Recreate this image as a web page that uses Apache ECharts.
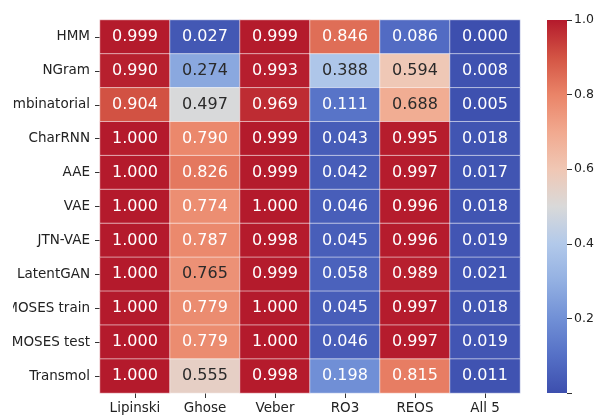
<!DOCTYPE html>
<html>
<head>
<meta charset="utf-8">
<script src="https://cdn.jsdelivr.net/npm/echarts@6/dist/echarts.min.js"></script>
<style>
html,body{margin:0;padding:0;background:#fff;}
#chart{width:597px;height:415px;}
</style>
</head>
<body>
<div id="chart"></div>
<script>
const rows = ['HMM','NGram','Combinatorial','CharRNN','AAE','VAE','JTN-VAE','LatentGAN','MOSES train','MOSES test','Transmol'];
const cols = ['Lipinski','Ghose','Veber','RO3','REOS','All 5'];
const lipinski = [0.999,0.990,0.904,1.000,1.000,1.000,1.000,1.000,1.000,1.000,1.000];
const ghose    = [0.027,0.274,0.497,0.790,0.826,0.774,0.787,0.765,0.779,0.779,0.555];
const veber    = [0.999,0.993,0.969,0.999,0.999,1.000,0.998,0.999,1.000,1.000,0.998];
const ro3      = [0.846,0.388,0.111,0.043,0.042,0.046,0.045,0.058,0.045,0.046,0.198];
const reos     = [0.086,0.594,0.688,0.995,0.997,0.996,0.996,0.989,0.997,0.997,0.815];
const all5     = [0.000,0.008,0.005,0.018,0.017,0.018,0.019,0.021,0.018,0.019,0.011];
const colorbarTicks = [0.2,0.4,0.6,0.8,1.0];

const columns = [lipinski, ghose, veber, ro3, reos, all5];
const coolwarm = ['#3d4fae','#5570c6','#7190d6','#93b0e2','#b2c9ea','#d9d9d9','#f0c7b4','#f1a98f','#ea8468','#d35444','#b41a2c'];

const data = [];
columns.forEach((arr, c) => {
  arr.forEach((v, r) => {
    const dark = v > 0.2 && v < 0.77;
    data.push({value:[c, r, v], label:{color: dark ? '#2a2a2a' : '#ffffff'}});
  });
});

const stops = coolwarm.map((col,i)=>({offset:i/(coolwarm.length-1), color:col}));

const chart = echarts.init(document.getElementById('chart'));
chart.setOption({
  animation:false,
  textStyle:{fontFamily:'DejaVu Sans'},
  grid:[
    {left:100, top:20, width:420, height:373, containLabel:false, outerBoundsMode:'none'},
    {left:547, top:20, width:20, height:373, containLabel:false, outerBoundsMode:'none'}
  ],
  xAxis:[
    {type:'category', data:cols, gridIndex:0, position:'bottom',
     axisLine:{show:false}, splitLine:{show:false},
     axisTick:{show:true, alignWithLabel:true, length:5, lineStyle:{color:'#333'}},
     axisLabel:{color:'#222', fontSize:13.5, margin:8, fontFamily:'DejaVu Sans'}},
    {type:'category', data:['cb'], gridIndex:1, show:false}
  ],
  yAxis:[
    {type:'category', data:rows, gridIndex:0, inverse:true,
     axisLine:{show:false}, splitLine:{show:false},
     axisTick:{show:true, alignWithLabel:true, length:5, lineStyle:{color:'#333'}},
     axisLabel:{color:'#222', fontSize:13.5, margin:10, fontFamily:'DejaVu Sans'}},
    {type:'value', gridIndex:1, min:0, max:1, interval:0.2, position:'right',
     axisLine:{show:false}, splitLine:{show:false},
     axisTick:{show:true, length:5, lineStyle:{color:'#333'}},
     axisLabel:{color:'#222', fontSize:12.5, margin:7, fontFamily:'DejaVu Sans',
       formatter:(v)=> colorbarTicks.some(t=>Math.abs(t-v)<1e-6) ? v.toFixed(1) : ''}}
  ],
  visualMap:{show:false, min:0, max:1, seriesIndex:0, inRange:{color:coolwarm}},
  graphic:[{type:'rect', left:0, top:0, shape:{width:13, height:415}, style:{fill:'#fff'}, z:100}],
  series:[
    {type:'heatmap', xAxisIndex:0, yAxisIndex:0, data:data,
     itemStyle:{borderColor:'rgba(255,255,255,0.7)', borderWidth:0.8},
     label:{show:true, fontSize:16, fontFamily:'DejaVu Sans',
       formatter:(p)=>p.value[2].toFixed(3)}},
    {type:'bar', xAxisIndex:1, yAxisIndex:1, data:[1], barWidth:'100%',
     itemStyle:{color:{type:'linear', x:0, y:1, x2:0, y2:0, colorStops:stops}}}
  ]
});
</script>
</body>
</html>
